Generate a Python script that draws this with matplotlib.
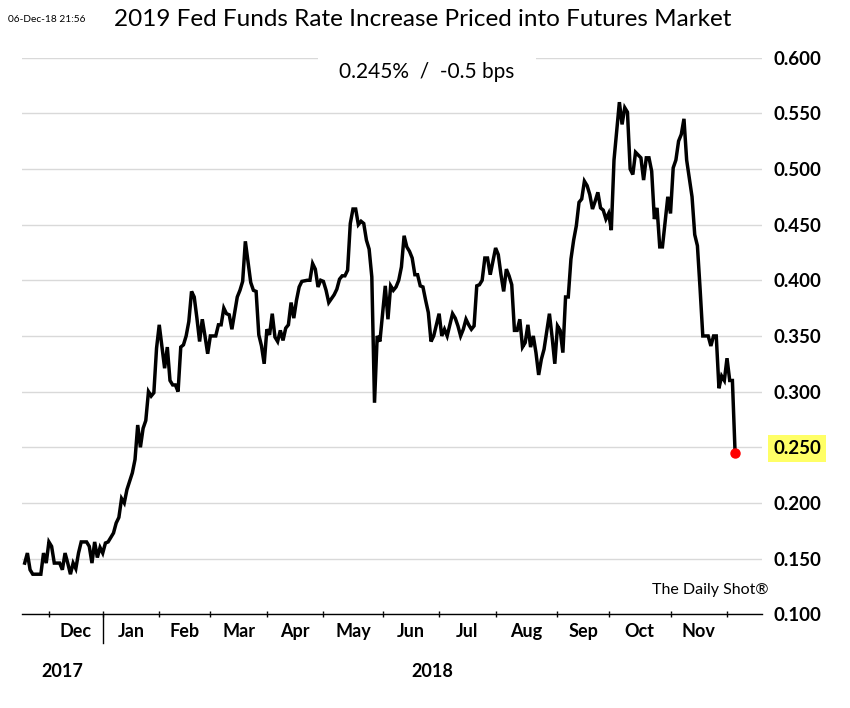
import numpy as np
import matplotlib
matplotlib.use("Agg")
import matplotlib.pyplot as plt

# ---------------- data ----------------
dates = [
    "2017-11-17", "2017-11-20", "2017-11-21", "2017-11-22", "2017-11-28", "2017-11-29", "2017-11-30",
    "2017-12-01", "2017-12-04", "2017-12-05", "2017-12-07", "2017-12-08", "2017-12-11", "2017-12-12",
    "2017-12-13", "2017-12-14", "2017-12-15", "2017-12-18", "2017-12-19", "2017-12-21", "2017-12-22",
    "2017-12-26", "2017-12-27", "2017-12-28", "2017-12-29",
    "2018-01-02", "2018-01-03", "2018-01-04", "2018-01-08", "2018-01-09", "2018-01-10", "2018-01-11",
    "2018-01-12", "2018-01-16", "2018-01-18", "2018-01-19", "2018-01-22", "2018-01-23", "2018-01-24",
    "2018-01-25", "2018-01-26", "2018-01-29", "2018-01-30", "2018-01-31",
    "2018-02-01", "2018-02-05", "2018-02-06", "2018-02-07", "2018-02-08", "2018-02-09", "2018-02-12",
    "2018-02-13", "2018-02-14", "2018-02-15", "2018-02-16", "2018-02-20", "2018-02-21", "2018-02-22",
    "2018-02-23", "2018-02-26", "2018-02-27", "2018-02-28",
    "2018-03-01", "2018-03-05", "2018-03-06", "2018-03-07", "2018-03-08", "2018-03-09", "2018-03-12",
    "2018-03-13", "2018-03-15", "2018-03-16", "2018-03-19", "2018-03-20", "2018-03-22", "2018-03-23",
    "2018-03-26", "2018-03-27", "2018-03-28", "2018-03-29",
    "2018-04-02", "2018-04-03", "2018-04-04", "2018-04-05", "2018-04-06", "2018-04-09", "2018-04-10",
    "2018-04-11", "2018-04-12", "2018-04-13", "2018-04-16", "2018-04-17", "2018-04-18", "2018-04-19",
    "2018-04-23", "2018-04-24", "2018-04-25", "2018-04-26", "2018-04-27", "2018-04-30",
    "2018-05-01", "2018-05-02", "2018-05-03", "2018-05-07", "2018-05-08", "2018-05-09", "2018-05-10",
    "2018-05-11", "2018-05-14", "2018-05-15", "2018-05-16", "2018-05-17", "2018-05-18", "2018-05-21",
    "2018-05-22", "2018-05-23", "2018-05-24", "2018-05-25", "2018-05-29", "2018-05-30", "2018-05-31",
    "2018-06-04", "2018-06-05", "2018-06-06", "2018-06-07", "2018-06-08", "2018-06-11", "2018-06-12",
    "2018-06-13", "2018-06-14", "2018-06-15", "2018-06-18", "2018-06-19", "2018-06-20", "2018-06-21",
    "2018-06-22", "2018-06-25", "2018-06-26", "2018-06-27", "2018-06-28", "2018-06-29",
    "2018-07-02", "2018-07-03", "2018-07-05", "2018-07-06", "2018-07-09", "2018-07-10", "2018-07-11",
    "2018-07-12", "2018-07-13", "2018-07-16", "2018-07-17", "2018-07-18", "2018-07-19", "2018-07-20",
    "2018-07-23", "2018-07-24", "2018-07-25", "2018-07-26", "2018-07-27", "2018-07-30",
    "2018-08-01", "2018-08-02", "2018-08-03", "2018-08-06", "2018-08-07", "2018-08-08", "2018-08-09",
    "2018-08-10", "2018-08-13", "2018-08-14", "2018-08-15", "2018-08-16", "2018-08-17", "2018-08-20",
    "2018-08-21", "2018-08-22", "2018-08-23", "2018-08-24", "2018-08-27", "2018-08-29", "2018-08-30",
    "2018-08-31",
    "2018-09-04", "2018-09-05", "2018-09-06", "2018-09-07", "2018-09-10", "2018-09-11", "2018-09-12",
    "2018-09-13", "2018-09-14", "2018-09-17", "2018-09-18", "2018-09-19", "2018-09-20", "2018-09-21",
    "2018-09-24", "2018-09-25", "2018-09-26", "2018-09-27", "2018-09-28",
    "2018-10-01", "2018-10-02", "2018-10-03", "2018-10-05", "2018-10-08", "2018-10-09", "2018-10-10",
    "2018-10-11", "2018-10-12", "2018-10-15", "2018-10-17", "2018-10-18", "2018-10-19", "2018-10-22",
    "2018-10-23", "2018-10-24", "2018-10-25", "2018-10-26", "2018-10-29", "2018-10-31",
    "2018-11-01", "2018-11-02", "2018-11-05", "2018-11-06", "2018-11-07", "2018-11-08", "2018-11-09",
    "2018-11-13", "2018-11-14", "2018-11-15", "2018-11-16", "2018-11-19", "2018-11-21", "2018-11-23",
    "2018-11-26", "2018-11-27", "2018-11-28", "2018-11-29", "2018-11-30",
    "2018-12-03", "2018-12-04", "2018-12-05", "2018-12-06",
]
values = [
    0.146, 0.155, 0.140, 0.136, 0.136, 0.155, 0.146,
    0.165, 0.161, 0.146, 0.146, 0.140, 0.155, 0.146,
    0.136, 0.146, 0.141, 0.155, 0.165, 0.165, 0.161,
    0.146, 0.165, 0.151, 0.160,
    0.155, 0.164, 0.165, 0.173, 0.182, 0.187, 0.204,
    0.200, 0.212, 0.227, 0.239, 0.270, 0.250, 0.267,
    0.274, 0.300, 0.296, 0.299, 0.339,
    0.360, 0.321, 0.340, 0.310, 0.306, 0.306, 0.300,
    0.340, 0.342, 0.350, 0.363, 0.390, 0.385, 0.366,
    0.345, 0.365, 0.350, 0.334,
    0.350, 0.350, 0.360, 0.360, 0.375, 0.370, 0.369,
    0.356, 0.385, 0.391, 0.399, 0.435, 0.398, 0.391,
    0.390, 0.351, 0.341, 0.325,
    0.356, 0.351, 0.370, 0.349, 0.345, 0.355, 0.346,
    0.357, 0.360, 0.380, 0.366, 0.382, 0.394, 0.399,
    0.400, 0.400, 0.415, 0.410, 0.394, 0.400,
    0.399, 0.391, 0.380, 0.387, 0.392, 0.401, 0.404,
    0.404, 0.409, 0.451, 0.464, 0.464, 0.450, 0.453,
    0.451, 0.436, 0.428, 0.403, 0.290, 0.350, 0.345,
    0.395, 0.365, 0.395, 0.391, 0.394, 0.400, 0.412,
    0.440, 0.430, 0.426, 0.420, 0.405, 0.405, 0.395,
    0.394, 0.382, 0.371, 0.345, 0.350, 0.360,
    0.370, 0.350, 0.356, 0.350, 0.360, 0.370, 0.366,
    0.359, 0.350, 0.356, 0.365, 0.360, 0.356, 0.359,
    0.395, 0.396, 0.400, 0.420, 0.420, 0.405,
    0.429, 0.423, 0.405, 0.390, 0.410, 0.404, 0.396,
    0.355, 0.355, 0.365, 0.340, 0.344, 0.360, 0.340,
    0.350, 0.335, 0.315, 0.329, 0.338, 0.370, 0.349,
    0.325,
    0.359, 0.355, 0.335, 0.385, 0.385, 0.419, 0.436,
    0.449, 0.470, 0.473, 0.489, 0.485, 0.477, 0.464,
    0.471, 0.479, 0.465, 0.463, 0.455,
    0.460, 0.445, 0.508, 0.560, 0.540, 0.555, 0.551,
    0.500, 0.495, 0.515, 0.510, 0.490, 0.510, 0.510,
    0.498, 0.455, 0.465, 0.430, 0.430, 0.475,
    0.460, 0.501, 0.508, 0.525, 0.531, 0.545, 0.508,
    0.475, 0.441, 0.431, 0.392, 0.350, 0.350, 0.341,
    0.350, 0.350, 0.303, 0.314, 0.310,
    0.330, 0.310, 0.310, 0.245,
]

# exchange holidays (trading-day axis)
holidays = ["2017-11-23", "2017-12-25", "2018-01-01", "2018-01-15", "2018-02-19",
            "2018-03-30", "2018-05-28", "2018-07-04", "2018-09-03", "2018-11-22"]

month_starts = ["2017-12-01", "2018-01-01", "2018-02-01", "2018-03-01", "2018-04-01",
                "2018-05-01", "2018-06-01", "2018-07-01", "2018-08-01", "2018-09-01",
                "2018-10-01", "2018-11-01", "2018-12-01"]
month_labels = ["Dec", "Jan", "Feb", "Mar", "Apr", "May", "Jun", "Jul", "Aug", "Sep", "Oct", "Nov"]
year_labels = ["2017", "2018"]
year_break = "2018-01-01"
x_range = ["2017-11-16", "2018-12-20"]

y_ticks = [0.100, 0.150, 0.200, 0.250, 0.300, 0.350, 0.400, 0.450, 0.500, 0.550, 0.600]
highlight_tick = 0.250

title = "2019 Fed Funds Rate Increase Priced into Futures Market"
subtitle = "0.245%  /  -0.5 bps"
stamp = "06-Dec-18 21:56"
source = "The Daily Shot\u00ae"

# ---------------- helpers ----------------
ORIGIN = np.datetime64("2017-12-01")


def tpos(ds, roll=False):
    d = np.array(ds, dtype="datetime64[D]")
    if roll:
        d = np.busday_offset(d, 0, roll="forward", holidays=holidays)
    return np.busday_count(ORIGIN, d, holidays=holidays).astype(float)


x = tpos(dates)
v = np.array(values)
mpos = tpos(month_starts, roll=True)
mid = (mpos[:-1] + mpos[1:]) / 2
xlim = tpos(x_range)
xbreak = tpos([year_break], roll=True)[0]

plt.rcParams["font.family"] = ["Lato", "DejaVu Sans"]

W, H = 850, 708
fig = plt.figure(figsize=(W / 100, H / 100), dpi=100)
fig.patch.set_facecolor("white")
ax = fig.add_axes([22 / W, 1 - 614.3 / H, 740 / W, 556.7 / H])

ax.plot(x, v, color="black", lw=2.5, solid_joinstyle="miter", zorder=3)
ax.plot(x[-1:], v[-1:], "o", color="red", ms=6.5, zorder=4)

ax.set_xlim(xlim[0], xlim[1])
ax.set_ylim(y_ticks[0], y_ticks[-1])

for s in ["top", "left", "right"]:
    ax.spines[s].set_visible(False)
ax.spines["bottom"].set_color("black")
ax.spines["bottom"].set_linewidth(1.0)

# y axis on the right
ax.yaxis.tick_right()
ax.set_yticks(y_ticks)
ax.set_yticklabels([f"{t:.3f}" for t in y_ticks])
ax.tick_params(axis="y", length=0, pad=8, labelsize=13.5)
for lbl, t in zip(ax.get_yticklabels(), y_ticks):
    lbl.set_fontweight("bold")
    if abs(t - highlight_tick) < 1e-9:
        lbl.set_bbox(dict(facecolor="#ffff66", edgecolor="none", pad=3.5))
ax.grid(axis="y", color="#d9d9d9", lw=1.0, zorder=0)
ax.set_axisbelow(True)

# x axis: tick marks at month starts, labels centred between
ax.set_xticks(mpos)
ax.set_xticklabels([""] * len(mpos))
ax.tick_params(axis="x", which="major", direction="inout", length=4, width=1, color="black")
ax.set_xticks(mid, minor=True)
ax.set_xticklabels(month_labels, minor=True, fontweight="bold", fontsize=13)
ax.tick_params(axis="x", which="minor", length=0, pad=6.5)

# year separator and year labels
ax.plot([xbreak, xbreak], [0, -0.052], transform=ax.get_xaxis_transform(),
        color="black", lw=1.0, clip_on=False)
year_x = [(xlim[0] + xbreak) / 2, (xbreak + xlim[1]) / 2]
for yx, yl in zip(year_x, year_labels):
    ax.annotate(yl, xy=(yx, 0), xycoords=("data", "axes fraction"),
                xytext=(0, -41), textcoords="offset points",
                ha="center", va="center", fontsize=13, fontweight="bold")

# texts
fig.text(0.497, 1 - 20 / H, title, ha="center", va="center", fontsize=17.5)
fig.text(8 / W, 1 - 20 / H, stamp, ha="left", va="center", fontsize=7.3)
ax.text((427 - 22) / 740, (614.3 - 72) / 556.7, subtitle, transform=ax.transAxes,
        ha="center", va="center", fontsize=15, zorder=5,
        bbox=dict(facecolor="white", edgecolor="none", boxstyle="square,pad=1.0"))
fig.text(768 / W, 1 - 590 / H, source, ha="right", va="center", fontsize=11.5)

fig.savefig("out.png", dpi=100, facecolor="white")
